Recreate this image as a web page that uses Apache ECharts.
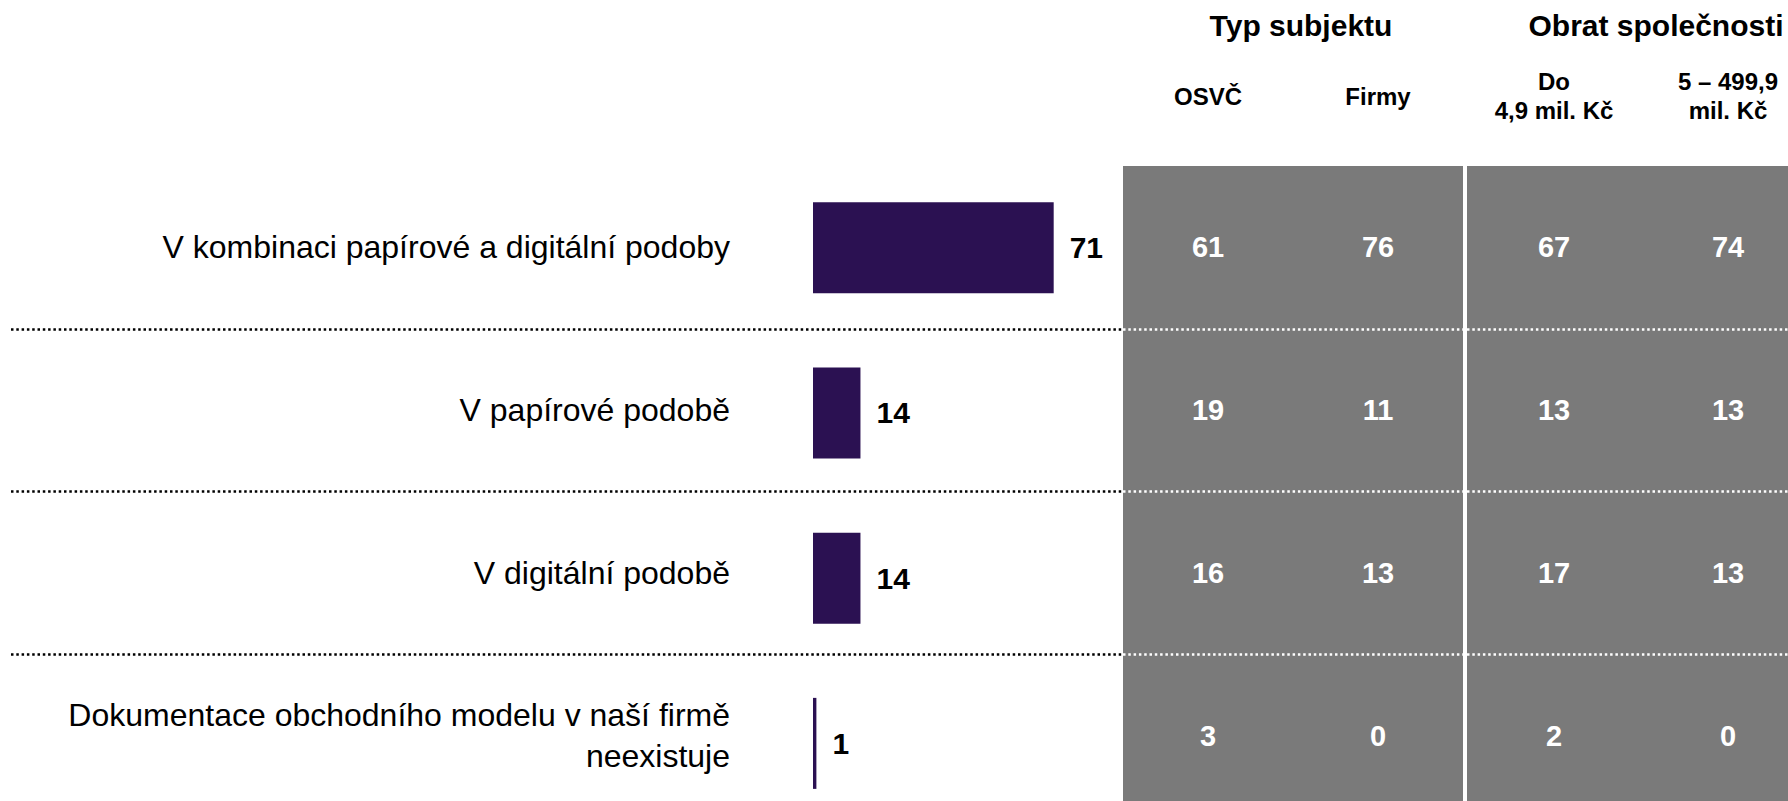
<!DOCTYPE html>
<html>
<head>
<meta charset="utf-8">
<script src="https://cdn.jsdelivr.net/npm/echarts@6/dist/echarts.min.js"></script>
<style>
html,body{margin:0;padding:0;background:#fff;}
#c{width:1788px;height:801px;}
</style>
</head>
<body>
<div id="c"></div>
<script>
// ---- data ----
const categories = [
  'V kombinaci papírové a digitální podoby',
  'V papírové podobě',
  'V digitální podobě',
  'Dokumentace obchodního modelu v naší firmě\nneexistuje'
];
const totalValues = [71, 14, 14, 1];
const typeGroupName = 'Typ subjektu';
const typeColumns = ['OSVČ', 'Firmy'];
const osvcValues = [61, 19, 16, 3];
const firmyValues = [76, 11, 13, 0];
const turnoverGroupName = 'Obrat společnosti';
const turnoverColumns = ['Do\n4,9 mil. Kč', '5 – 499,9\nmil. Kč'];
const smallTurnoverValues = [67, 13, 17, 2];
const midTurnoverValues = [74, 13, 13, 0];

// ---- styling ----
const FONT = 'Liberation Sans, Arial, sans-serif';
const BAR_COLOR = '#2b1152';
const PANEL = '#7a7a7a';
const TOP = 166, HEIGHT = 651;

function cellSeries(xIdx, col, values) {
  return {
    type: 'scatter',
    xAxisIndex: xIdx,
    yAxisIndex: xIdx,
    symbolSize: 1,
    itemStyle: { color: 'rgba(0,0,0,0)', opacity: 1 },
    silent: true,
    data: categories.map((c, i) => [col, c, values[i]]),
    label: {
      show: true,
      position: 'inside',
      formatter: p => String(p.value[2]),
      color: '#ffffff',
      opacity: 1,
      fontFamily: FONT,
      fontWeight: 'bold',
      fontSize: 29
    }
  };
}

const hiddenValueAxis = (gi) => ({
  type: 'value', gridIndex: gi, show: false, min: 0, max: 100
});

const tableX = (gi, cols, name, shift) => ({
  type: 'category', gridIndex: gi, position: 'top', data: cols,
  axisLine: { show: false }, axisTick: { show: false },
  axisLabel: {
    margin: 70, fontFamily: FONT, fontWeight: 'bold', fontSize: 24,
    color: '#000', lineHeight: 29, verticalAlign: 'middle'
  },
  name: name, nameLocation: 'middle', nameGap: 141,
  nameTextStyle: {
    fontFamily: FONT, fontWeight: 'bold', fontSize: 30, color: '#000',
    verticalAlign: 'middle', padding: [0, 0, 0, shift]
  }
});

const catY = (gi, splitColor) => ({
  type: 'category', gridIndex: gi, data: categories, inverse: true,
  axisLine: { show: false }, axisTick: { show: false },
  axisLabel: { show: false },
  splitLine: splitColor ? {
    show: true, showMinLine: false, showMaxLine: false,
    lineStyle: { color: splitColor, width: 2.5, type: [2.5, 2.8] }
  } : { show: false }
});

const gridBase = { outerBoundsMode: 'none', containLabel: false };

const chart = echarts.init(document.getElementById('c'), null, { renderer: 'svg' });
chart.setOption({
  animation: false,
  backgroundColor: '#fff',
  grid: [
    // 0: table group "Typ subjektu"
    Object.assign({ left: 1123, width: 340, top: TOP, height: HEIGHT, show: true, backgroundColor: PANEL, borderWidth: 0, borderColor: 'transparent' }, gridBase),
    // 1: table group "Obrat společnosti"
    Object.assign({ left: 1467, width: 348, top: TOP, height: HEIGHT, show: true, backgroundColor: PANEL, borderWidth: 0, borderColor: 'transparent' }, gridBase),
    // 2: row labels + separators on white area
    Object.assign({ left: 11, width: 1112, top: TOP, height: HEIGHT }, gridBase),
    // 3: bars
    Object.assign({ left: 813, width: 339, top: 165, height: 661 }, gridBase)
  ],
  xAxis: [
    tableX(0, typeColumns, typeGroupName, 16),
    tableX(1, turnoverColumns, turnoverGroupName, 30),
    hiddenValueAxis(2),
    hiddenValueAxis(3)
  ],
  yAxis: [
    catY(0, '#ffffff'),
    catY(1, '#ffffff'),
    Object.assign(catY(2, '#000000'), {
      position: 'right',
      axisLabel: {
        show: true, inside: true, margin: 393, align: 'right',
        fontFamily: FONT, fontSize: 32, color: '#000', lineHeight: 41
      }
    }),
    catY(3, null)
  ],
  series: [
    cellSeries(0, typeColumns[0], osvcValues),
    cellSeries(0, typeColumns[1], firmyValues),
    cellSeries(1, turnoverColumns[0], smallTurnoverValues),
    cellSeries(1, turnoverColumns[1], midTurnoverValues),
    {
      type: 'bar',
      xAxisIndex: 3,
      yAxisIndex: 3,
      barWidth: 91,
      data: totalValues,
      itemStyle: { color: BAR_COLOR },
      label: {
        show: true, position: 'right', distance: 16,
        fontFamily: FONT, fontWeight: 'bold', fontSize: 30, color: '#000'
      },
      silent: true
    }
  ]
});
</script>
</body>
</html>
